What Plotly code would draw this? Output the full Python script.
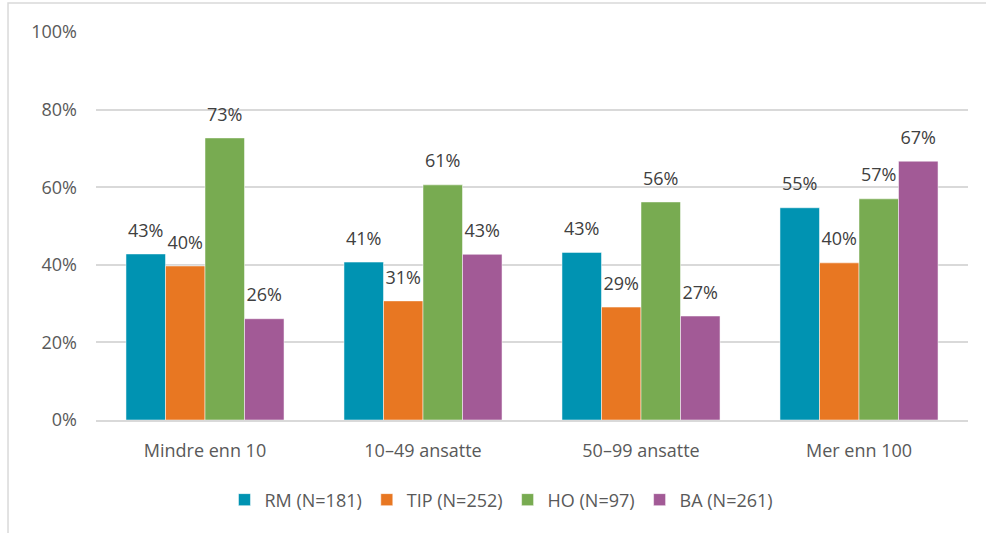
import plotly.graph_objects as go

categories = ["Mindre enn 10", "10–49 ansatte", "50–99 ansatte", "Mer enn 100"]
series_names = ["RM (N=181)", "TIP (N=252)", "HO (N=97)", "BA (N=261)"]
rm = [0.428, 0.407, 0.432, 0.547]
tip = [0.397, 0.307, 0.291, 0.405]
ho = [0.727, 0.606, 0.562, 0.570]
ba = [0.261, 0.427, 0.268, 0.667]
colors = ["#0093B2", "#E87722", "#78AB51", "#A25A96"]

FONT = "Open Sans"
GREY = "#595959"
FS = 18

fig = go.Figure()
all_vals = [rm, tip, ho, ba]
for name, vals, col in zip(series_names, all_vals, colors):
    fig.add_trace(go.Bar(
        x=categories, y=vals, name=name,
        marker=dict(color=col, line=dict(color="white", width=0.5)),
        hoverinfo="skip",
    ))
for name, vals in zip(series_names, all_vals):
    fig.add_trace(go.Scatter(
        x=categories, y=vals, mode="markers+text",
        text=[f"{v*100:.0f}%" for v in vals],
        textposition="top center",
        marker=dict(size=19, color="rgba(0,0,0,0)"),
        textfont=dict(family=FONT, size=FS, color="#404040"),
        showlegend=False, hoverinfo="skip", cliponaxis=False,
    ))

fig.update_layout(
    width=986, height=533,
    margin=dict(l=96, r=18, t=32, b=113),
    barmode="group", bargap=0.275, bargroupgap=0,
    scattermode="group", scattergap=0.275,
    plot_bgcolor="white", paper_bgcolor="white",
    font=dict(family=FONT, size=FS, color=GREY),
    legend=dict(orientation="h", x=0.465, xanchor="center", y=-0.206, yanchor="middle",
                font=dict(family=FONT, size=FS, color=GREY), itemwidth=30,
                traceorder="normal"),
    shapes=[dict(type="rect", xref="paper", yref="paper",
                 x0=-0.1009, x1=2, y0=-2, y1=1.0747,
                 line=dict(color="#D9D9D9", width=1.5), layer="below")],
)
fig.update_yaxes(range=[0, 1], dtick=0.2, tickformat=".0%", showgrid=True,
                 gridcolor="#D9D9D9", gridwidth=1.5, zeroline=False,
                 ticklabelstandoff=18, tickfont=dict(size=FS, color=GREY))
fig.update_xaxes(showline=True, linecolor="#D9D9D9", linewidth=1.5,
                 ticklabelstandoff=14, tickfont=dict(size=FS, color=GREY))

fig.write_html("out.html", config={"displayModeBar": False},
               post_script="document.body.style.margin='0';")
